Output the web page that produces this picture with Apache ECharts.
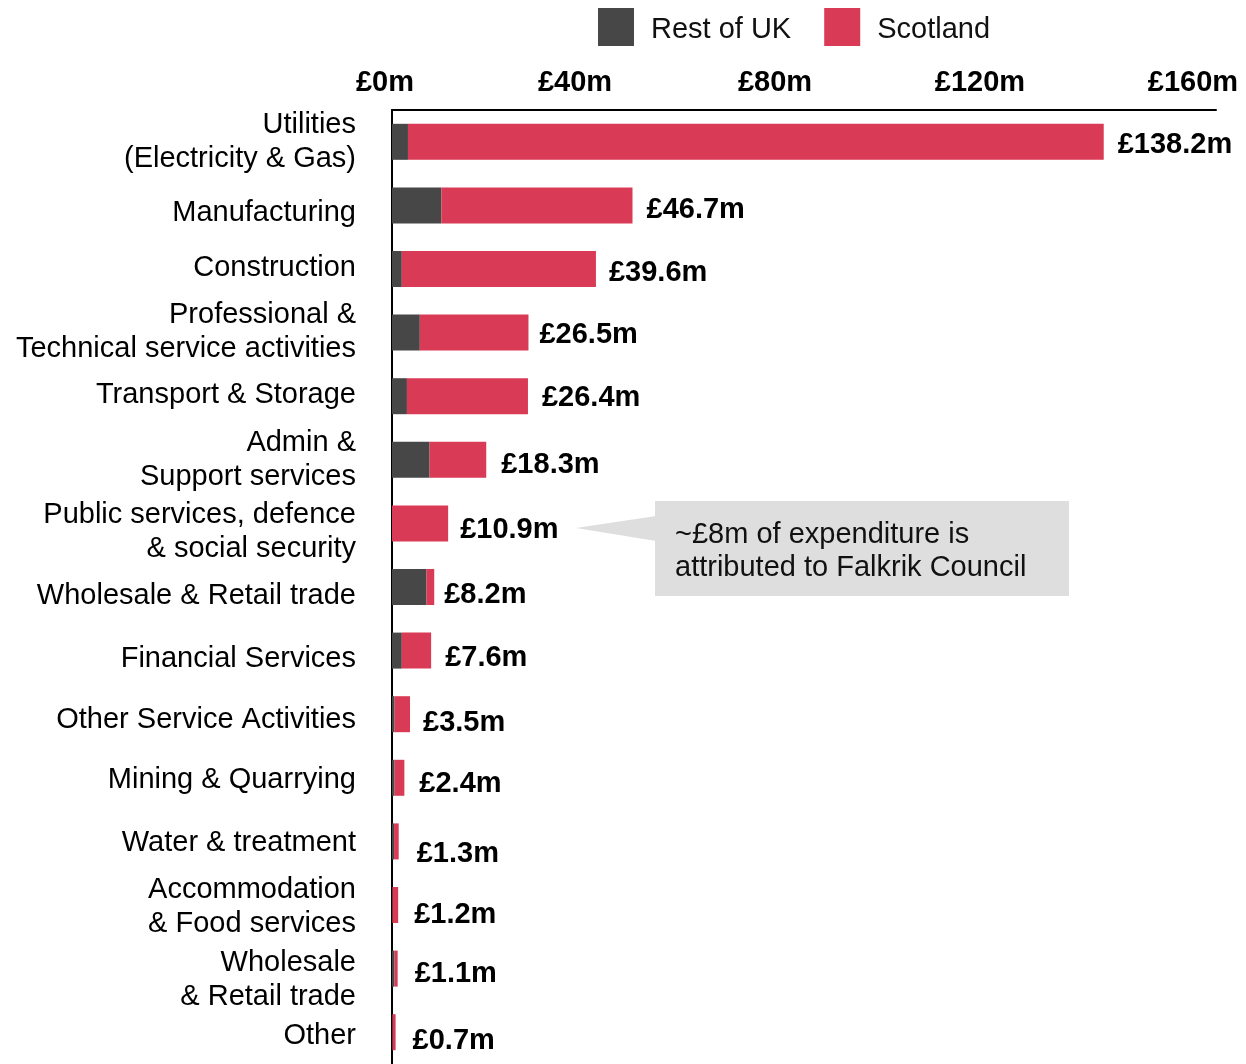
<!DOCTYPE html>
<html>
<head>
<meta charset="utf-8">
<title>Expenditure by sector</title>
<script src="https://cdn.jsdelivr.net/npm/echarts@6/dist/echarts.min.js"></script>
<style>
  html, body { margin: 0; padding: 0; background: #ffffff; }
  #chart { width: 1246px; height: 1064px; }
</style>
</head>
<body>
<div id="chart"></div>
<script>
// Sectors, top to bottom
const categories = [
  'Utilities\n(Electricity & Gas)',
  'Manufacturing',
  'Construction',
  'Professional &\nTechnical service activities',
  'Transport & Storage',
  'Admin &\nSupport services',
  'Public services, defence\n& social security',
  'Wholesale & Retail trade',
  'Financial Services',
  'Other Service Activities',
  'Mining & Quarrying',
  'Water & treatment',
  'Accommodation\n& Food services',
  'Wholesale\n& Retail trade',
  'Other'
];

// Spend in £m
const restOfUK = [3.1, 9.6, 1.9, 5.4, 2.9, 7.3, 0, 6.7, 1.9, 0.5, 0.5, 0.4, 0.1, 0.5, 0.1];
const scotland = [135.1, 37.1, 37.7, 21.1, 23.5, 11.0, 10.9, 1.5, 5.7, 3.0, 1.9, 0.9, 1.1, 0.6, 0.6];

// Axis ticks (£m)
const axisMax = 160;
const axisStep = 40;

// ---- layout / style settings ----
const FONT = '"Liberation Sans", Arial, Helvetica, sans-serif';
const DARK = '#474747';
const RED = '#D93A55';

// leftward nudges (px) for the top axis labels
const tickNudge = [7, 23, 29, 30, 23];
// downward nudges (px) for the sector names
const nameNudge = [0, 8, -1, -1, -1, 0, 9, 9, 8, 6, 2, 2, 2, 11, 4];
// [dx, dy] nudges (px) for the total labels
const totalNudge = [[1, 3], [1, 5], [0, 4], [-2, 2], [1, 2], [2, 5], [-1, 7], [-3, 8],
                    [1, 7], [0, 9], [2, 6], [5, 13], [3, 10], [4, 5], [4, 9]];

const tickRich = {};
tickNudge.forEach(function (n, i) {
  tickRich['t' + i] = {
    fontFamily: FONT, fontSize: 29, fontWeight: 'bold', color: '#000',
    padding: [0, n * 2, 0, 0]
  };
});

const nameRich = {};
nameNudge.forEach(function (n, i) {
  nameRich['c' + i] = {
    fontFamily: FONT, fontSize: 29, lineHeight: 34, color: '#000', align: 'right',
    padding: n >= 0 ? [n * 2, 0, 0, 0] : [0, 0, -n * 2, 0]
  };
});

const scotlandData = scotland.map(function (v, i) {
  return { value: v, label: { offset: totalNudge[i] } };
});

const chart = echarts.init(document.getElementById('chart'), null, { renderer: 'canvas' });

chart.setOption({
  backgroundColor: '#ffffff',
  animation: false,
  textStyle: { fontFamily: FONT },
  legend: {
    data: ['Rest of UK', 'Scotland'],
    left: 598,
    top: 8,
    padding: 0,
    itemWidth: 36,
    itemHeight: 38,
    itemGap: 33,
    icon: 'rect',
    formatter: function (name) { return '{n|' + name + '}'; },
    textStyle: {
      fontFamily: FONT, fontSize: 29, color: '#111',
      rich: {
        n: { fontFamily: FONT, fontSize: 29, lineHeight: 34, color: '#111', padding: [6, 0, 0, 12] }
      }
    }
  },
  grid: { left: 392, top: 110, width: 824, height: 958, containLabel: false },
  xAxis: {
    type: 'value',
    position: 'top',
    min: 0,
    max: axisMax,
    interval: axisStep,
    axisLine: { show: true, lineStyle: { color: '#000', width: 2 } },
    axisTick: { show: false },
    splitLine: { show: false },
    axisLabel: {
      margin: 13,
      formatter: function (v) {
        const i = Math.round(v / axisStep);
        return '{t' + i + '|£' + v + 'm}';
      },
      rich: tickRich
    }
  },
  yAxis: {
    type: 'category',
    inverse: true,
    data: categories,
    axisLine: { show: true, lineStyle: { color: '#000', width: 2 } },
    axisTick: { show: false },
    axisLabel: {
      margin: 36,
      fontFamily: FONT,
      fontSize: 29,
      lineHeight: 34,
      color: '#000',
      align: 'right',
      formatter: function (value, index) {
        return value.split('\n').map(function (line) {
          return '{c' + index + '|' + line + '}';
        }).join('\n');
      },
      rich: nameRich
    }
  },
  series: [
    {
      name: 'Rest of UK',
      type: 'bar',
      stack: 'spend',
      barWidth: 36,
      data: restOfUK,
      itemStyle: { color: DARK }
    },
    {
      name: 'Scotland',
      type: 'bar',
      stack: 'spend',
      barWidth: 36,
      data: scotlandData,
      itemStyle: { color: RED },
      label: {
        show: true,
        position: 'right',
        distance: 13,
        fontFamily: FONT,
        fontSize: 29,
        fontWeight: 'bold',
        color: '#000',
        formatter: function (p) {
          const total = restOfUK[p.dataIndex] + scotland[p.dataIndex];
          return '£' + total.toFixed(1) + 'm';
        }
      }
    }
  ],
  graphic: [
    {
      type: 'polygon',
      shape: { points: [[576, 528], [656, 516], [656, 541]] },
      style: { fill: '#DEDEDE' },
      silent: true
    },
    {
      type: 'rect',
      shape: { x: 655, y: 501, width: 414, height: 95 },
      style: { fill: '#DEDEDE' },
      silent: true
    },
    {
      type: 'text',
      x: 675,
      y: 551,
      style: {
        text: '~£8m of expenditure is\nattributed to Falkrik Council',
        fontFamily: FONT,
        fontSize: 29,
        lineHeight: 33,
        fill: '#111',
        verticalAlign: 'middle',
        align: 'left'
      },
      silent: true
    }
  ]
});
</script>
</body>
</html>
